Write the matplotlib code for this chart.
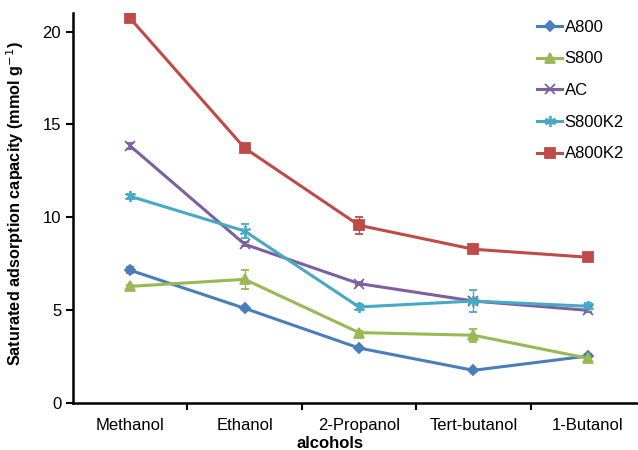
import matplotlib
matplotlib.use("Agg")
import matplotlib.pyplot as plt
from matplotlib.lines import Line2D
import numpy as np

plt.rcParams['font.family'] = ['Liberation Sans', 'DejaVu Sans']

alcohols = ["Methanol", "Ethanol", "2-Propanol", "Tert-butanol", "1-Butanol"]

a800 = [7.15, 5.10, 2.96, 1.76, 2.53]
a800_err = [0.15, 0.08, 0.08, 0.08, 0.1]
s800 = [6.28, 6.66, 3.79, 3.65, 2.41]
s800_err = [0.1, 0.5, 0.1, 0.35, 0.1]
ac = [13.84, 8.55, 6.43, 5.49, 4.99]
ac_err = [0.15, 0.1, 0.08, 0.1, 0.1]
s800k2 = [11.13, 9.26, 5.17, 5.49, 5.21]
s800k2_err = [0.15, 0.4, 0.15, 0.6, 0.15]
a800k2 = [20.71, 13.73, 9.57, 8.28, 7.85]
a800k2_err = [0.1, 0.1, 0.45, 0.1, 0.1]

series = [
    ("A800", a800, a800_err, "#4A7EBB", "D", 5),
    ("S800", s800, s800_err, "#98B954", "^", 7),
    ("AC", ac, ac_err, "#7D60A0", "x", 7),
    ("S800K2", s800k2, s800k2_err, "#46AAC5", (6, 2, 0), 8),
    ("A800K2", a800k2, a800k2_err, "#BE4B48", "s", 7),
]

fig = plt.figure(figsize=(6.38, 4.5), dpi=100)
ax = fig.add_axes([73 / 638, 47 / 450, 572 / 638, 390 / 450])

x = np.arange(len(alcohols))
handles = []
for name, vals, err, col, mk, ms in series:
    ax.errorbar(x, vals, yerr=err, color=col, marker=mk, markersize=ms,
                linewidth=2.2, elinewidth=1, capsize=3, capthick=1,
                markeredgecolor=col, markeredgewidth=1.3)
    handles.append(Line2D([], [], color=col, marker=mk, markersize=ms,
                          linewidth=2.2, markeredgecolor=col,
                          markeredgewidth=1.3, label=name))

ax.set_xlim(-0.5, len(alcohols) - 0.5)
ax.set_ylim(0, 21)
ax.set_yticks([0, 5, 10, 15, 20])
ax.set_xticks(x)
ax.set_xticklabels(alcohols)
ax.set_xticks(np.arange(0.5, len(alcohols) - 0.5, 1.0), minor=True)
ax.tick_params(axis='x', which='major', length=0, pad=11, labelsize=12)
ax.tick_params(axis='x', which='minor', length=5, width=1.5, direction='out')
ax.tick_params(axis='y', length=5, width=1.5, direction='out', labelsize=12)

for s in ("top", "right"):
    ax.spines[s].set_visible(False)
for s in ("left", "bottom"):
    ax.spines[s].set_linewidth(1.8)

ax.set_ylabel("Saturated adsorption capacity (mmol g$^{-1}$)", fontsize=11.7,
              fontweight='bold')
ax.yaxis.set_label_coords(-0.082, 0.51)
ax.set_xlabel("alcohols", fontsize=12, fontweight='bold')
ax.xaxis.set_label_coords(0.45, -0.085)

ax.legend(handles=handles, loc='upper left', bbox_to_anchor=(0.8, 1.0),
          frameon=False, fontsize=12, handlelength=1.5, handletextpad=0.15,
          labelspacing=1.0, borderaxespad=0)

fig.savefig("out.png", dpi=100)
